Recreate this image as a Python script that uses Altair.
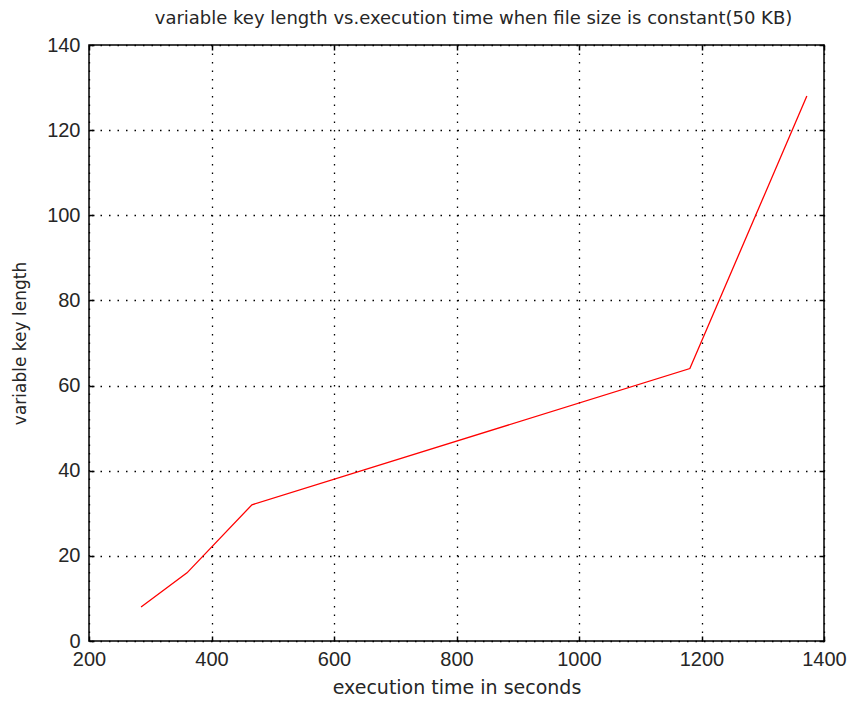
import altair as alt
import pandas as pd

# Data
exec_time = [285, 360, 466, 1181, 1372]
key_length = [8, 16, 32, 64, 128]
x_ticks = [200, 400, 600, 800, 1000, 1200, 1400]
y_ticks = [0, 20, 40, 60, 80, 100, 120, 140]

df = pd.DataFrame({"t": exec_time, "k": key_length})

FONT = "Liberation Sans"
TFONT = "DejaVu Sans"
TXT = "#262626"

xs = alt.Scale(domain=[200, 1400], nice=False, zero=False)
ys = alt.Scale(domain=[0, 140], nice=False, zero=False)

base = alt.Chart(df)

main = base.mark_line(color="#ff0000", strokeWidth=1.3).encode(
    x=alt.X("t:Q", scale=xs, axis=alt.Axis(
        orient="bottom", values=x_ticks, format="d", title="execution time in seconds",
        grid=False, domain=False, offset=-5, tickSize=5, tickColor="black",
        tickWidth=1.5, labelPadding=8, labelFontSize=20, labelFont=FONT,
        labelColor=TXT, labelFlush=False, titleFontSize=19, titleFont=TFONT,
        titleFontWeight="normal", titleColor=TXT, titlePadding=9)),
    y=alt.Y("k:Q", scale=ys, axis=alt.Axis(
        orient="left", values=y_ticks, format="d", title="variable key length",
        grid=False, domain=False, offset=-5, tickSize=5, tickColor="black",
        tickWidth=1.5, labelPadding=9, labelFontSize=20, labelFont=FONT,
        labelColor=TXT, labelFlush=False, titleFontSize=17, titleFont=TFONT,
        titleFontWeight="normal", titleColor=TXT, titlePadding=17)),
)

grid = base.mark_line(opacity=0).encode(
    x=alt.X("t:Q", scale=xs, axis=alt.Axis(
        orient="top", values=x_ticks, title="", labels=False,
        grid=True, gridDash=[1.5, 7], gridColor="black", gridWidth=1.3,
        domain=False, ticks=False)),
    y=alt.Y("k:Q", scale=ys, axis=alt.Axis(
        orient="right", values=y_ticks, title="", labels=False,
        grid=True, gridDash=[1.5, 7], gridColor="black", gridWidth=1.3,
        domain=False, ticks=False)),
)

ticks_tr = base.mark_line(opacity=0).encode(
    x=alt.X("t:Q", scale=xs, axis=alt.Axis(
        orient="top", values=x_ticks, title="", labels=False, grid=False,
        domain=False, offset=-5, tickSize=5, tickColor="black", tickWidth=1.5)),
    y=alt.Y("k:Q", scale=ys, axis=alt.Axis(
        orient="right", values=y_ticks, title="", labels=False, grid=False,
        domain=False, offset=-5, tickSize=5, tickColor="black", tickWidth=1.5)),
)

chart = alt.layer(grid, ticks_tr, main).resolve_axis(x="independent", y="independent").properties(
    width=735,
    height=596,
    background="white",
    autosize=alt.AutoSizeParams(type="none"),
    padding={"left": 89, "top": 45, "right": 26, "bottom": 64},
    title=alt.TitleParams(
        text="variable key length vs.execution time when file size is constant(50 KB)",
        fontSize=18, font=TFONT, fontWeight="normal", color=TXT,
        anchor="middle", offset=7, dx=17),
).configure_view(stroke="black", strokeWidth=1.5)

chart.save("out.html", embed_options={"renderer": "svg", "actions": False})
